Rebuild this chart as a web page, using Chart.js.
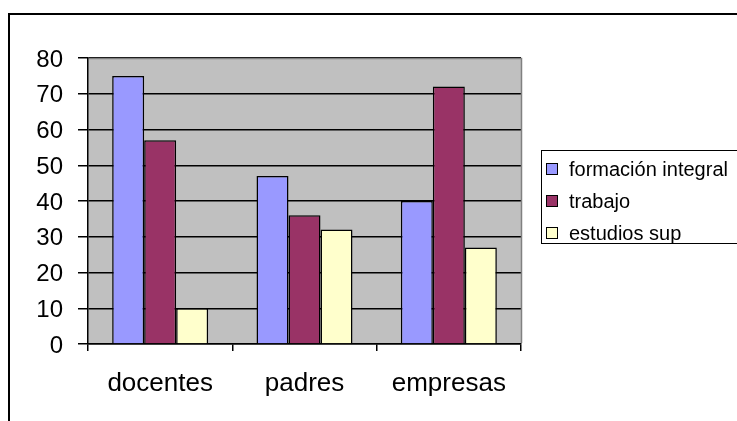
<!DOCTYPE html>
<html>
<head>
<meta charset="utf-8">
<script src="https://cdn.jsdelivr.net/npm/chart.js@4/dist/chart.umd.min.js"></script>
<style>
  html, body { margin: 0; padding: 0; background: #fff; overflow: hidden; }
  body { width: 737px; height: 421px; position: relative; font-family: "Liberation Sans", Arial, sans-serif; }
  #frame { position: absolute; left: 8px; top: 13px; width: 900px; height: 600px; border: 2px solid #000; }
  #chart { position: absolute; left: 0; top: 0; }
  #legend { position: absolute; left: 541px; top: 150px; width: 300px; height: 92px; border: 1.5px solid #000; background: #fff; }
  .row { position: absolute; left: 4px; height: 32px; line-height: 32px; font-size: 20px; color: #000; white-space: nowrap; }
  .sw { display: inline-block; width: 10px; height: 10px; border: 1.5px solid #000; margin-right: 11px; vertical-align: 1px; }
</style>
</head>
<body>
<div id="frame"></div>
<canvas id="chart" width="737" height="421"></canvas>
<div id="legend"></div>
<script>
const categories = ["docentes", "padres", "empresas"];
const seriesNames = ["formación integral", "trabajo", "estudios sup"];
const formacionIntegral = [75, 47, 40];
const trabajo = [57, 36, 72];
const estudiosSup = [10, 32, 27];
const yTicks = [0, 10, 20, 30, 40, 50, 60, 70, 80];

const colors = ["#9999FF", "#993366", "#FFFFCC"];
const values = [formacionIntegral, trabajo, estudiosSup];

// gray plot area behind the bars, gray border on top and right
const plotArea = {
  id: "plotArea",
  beforeDraw(chart) {
    const { ctx, chartArea: a } = chart;
    ctx.save();
    ctx.fillStyle = "#C0C0C0";
    ctx.fillRect(a.left, a.top, a.right - a.left, a.bottom - a.top);
    ctx.restore();
  },
  afterDraw(chart) {
    const { ctx, chartArea: a } = chart;
    ctx.save();
    ctx.strokeStyle = "#808080";
    ctx.lineWidth = 1.5;
    ctx.beginPath();
    ctx.moveTo(a.left + 1, Math.round(a.top) + 0.5);
    ctx.lineTo(Math.round(a.right) + 0.5, Math.round(a.top) + 0.5);
    ctx.lineTo(Math.round(a.right) + 0.5, a.bottom - 1);
    ctx.stroke();
    ctx.restore();
  }
};

new Chart(document.getElementById("chart"), {
  type: "bar",
  data: {
    labels: categories,
    datasets: seriesNames.map((name, i) => ({
      label: name,
      data: values[i],
      backgroundColor: colors[i],
      borderColor: "#000",
      borderWidth: 1.5,
      barPercentage: 1,
      categoryPercentage: 0.665
    }))
  },
  options: {
    responsive: false,
    animation: false,
    devicePixelRatio: 1,
    layout: { padding: { left: 0, top: 58, right: 216, bottom: 0 } },
    plugins: { legend: { display: false }, tooltip: { enabled: false } },
    scales: {
      x: {
        afterFit: (s) => { s.height = 77; },
        grid: { display: true, drawOnChartArea: false, drawTicks: true, tickLength: 7, color: "#000", lineWidth: 1.5, offset: true },
        border: { display: true, color: "#000", width: 1.5 },
        ticks: { color: "#000", padding: 17, font: { family: "Liberation Sans, Arial", size: 26 } }
      },
      y: {
        min: 0,
        max: 80,
        afterFit: (s) => { s.width = 88; },
        afterBuildTicks: (s) => { s.ticks = yTicks.map((v) => ({ value: v })); },
        grid: { color: "#000", lineWidth: 1.5, drawTicks: true, tickLength: 10 },
        border: { display: true, color: "#000", width: 1.5 },
        ticks: { color: "#000", padding: 15, labelOffset: 2, font: { family: "Liberation Sans, Arial", size: 24 } }
      }
    }
  },
  plugins: [plotArea]
});

const legend = document.getElementById("legend");
seriesNames.forEach((name, i) => {
  const row = document.createElement("div");
  row.className = "row";
  row.style.top = (2 + i * 32) + "px";
  const sw = document.createElement("span");
  sw.className = "sw";
  sw.style.background = colors[i];
  row.appendChild(sw);
  row.appendChild(document.createTextNode(name));
  legend.appendChild(row);
});
</script>
</body>
</html>
